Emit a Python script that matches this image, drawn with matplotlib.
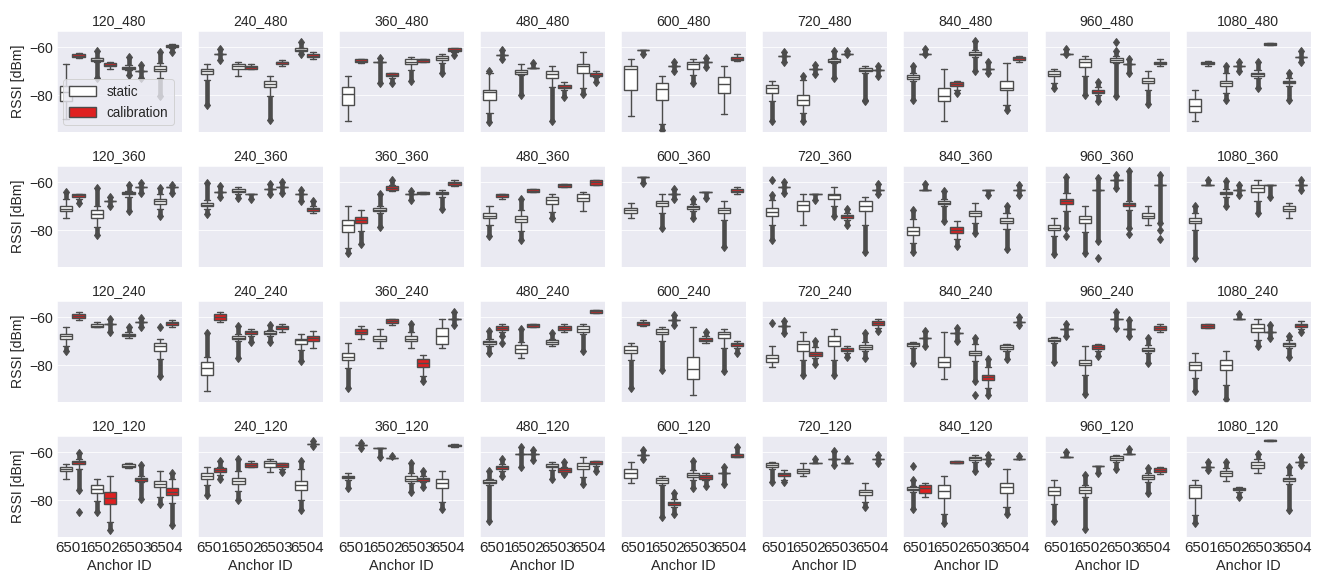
import matplotlib
matplotlib.use("Agg")
import matplotlib.pyplot as plt
import seaborn as sns
from matplotlib.patches import Patch

# ===================== data =====================
anchors = ["6501", "6502", "6503", "6504"]
hues = ["static", "calibration"]
x_cm = [120, 240, 360, 480, 600, 720, 840, 960, 1080]
y_cm = [480, 360, 240, 120]

# one tuple per box, order: 6501 static, 6501 calibration, 6502 static, ...
# (flier low, whisker low, q1, median, q3, whisker high, flier high)
box_120_480 = [(-90, -90, -82.5, -78.5, -76, -67, -67), (-64.5, -64.5, -64, -63.5, -63, -62.5, -62.5),
               (-73, -66, -65.6, -65.3, -64.7, -64.5, -61.5), (-69, -69, -67.8, -67.4, -66.8, -66, -66),
               (-71.5, -69.7, -69.2, -68.6, -68.1, -67.5, -64), (-73, -70, -70, -70, -70, -70, -67.5),
               (-80.5, -73, -70, -69, -67.8, -66.7, -62), (-62.2, -60.5, -60, -59.6, -59.2, -58.8, -58.8)]
box_240_480 = [(-84, -73.6, -71.1, -70, -69, -67.1, -67.1), (-65.3, -63, -63, -63, -63, -63, -60.8),
               (-72, -72, -69, -68, -67, -66, -66), (-69.2, -69.2, -69, -68.3, -67.8, -67, -67),
               (-90.3, -80.5, -76.7, -75.5, -74, -72, -72), (-67.8, -67.8, -67, -66.4, -66, -65.3, -65.3),
               (-62.8, -61.8, -61.5, -61, -60.5, -60.3, -58), (-65, -65, -64, -63.5, -62.8, -62, -62)]
box_360_480 = [(-90.6, -90.6, -84, -79.4, -76.7, -72, -72), (-66.6, -66.6, -66.2, -65.6, -65, -64.9, -64.9),
               (-75, -66.4, -66.4, -66.4, -66.4, -66.4, -64.6), (-75, -72.8, -72, -71.4, -70.8, -70.6, -70.6),
               (-73.9, -69.7, -67, -66, -64.9, -64.2, -64.2), (-66.2, -66.2, -66.2, -65.5, -65, -65, -65),
               (-70.8, -66.7, -65.5, -64.6, -63.9, -62.9, -62.9), (-63.2, -62, -61.5, -61, -60.5, -60.5, -60.5)]
box_480_480 = [(-91, -87.5, -82.2, -78.5, -77.8, -70.6, -70.1), (-65, -63.2, -63.2, -63.2, -63.2, -63.2, -61),
               (-79.9, -71.5, -71.1, -70.3, -69.7, -67, -67), (-68.8, -68.8, -68.8, -68.8, -68.8, -68.8, -66.7),
               (-90.6, -76.7, -72.9, -71, -69.9, -67.8, -67.8), (-80.8, -77.8, -77, -76.4, -75.7, -74.7, -74.7),
               (-79.4, -77, -70.8, -68, -67, -62.1, -62.1), (-74.7, -72.6, -72, -71.4, -70.6, -70, -70)]
box_600_480 = [(-88.6, -88.6, -78, -69, -67.8, -65, -65), (-63, -61, -61, -61, -61, -61, -61),
               (-94.4, -92, -81.9, -77.5, -75, -72, -72), (-70, -68, -68, -68, -68, -68, -66),
               (-75, -71.5, -69.2, -67.1, -66.2, -65, -65), (-68.1, -66.3, -66.3, -66.3, -66.3, -66.3, -64.6),
               (-87.8, -87.8, -78.9, -75.4, -72.5, -67.8, -67.8), (-65.7, -65.7, -65.3, -64.9, -64.2, -63, -63)]
box_720_480 = [(-90.6, -82.6, -78.9, -77, -75.7, -73.9, -73.9), (-66.4, -63.9, -63.9, -63.9, -63.9, -63.9, -62),
               (-90.6, -87.5, -84, -82, -79.9, -73.5, -72), (-71, -69, -69, -69, -69, -69, -67.5),
               (-72.9, -66.7, -66.2, -65.7, -64.9, -64.5, -61.8), (-63, -62.9, -62.9, -62.9, -62.9, -62.9, -61.5),
               (-81.9, -70.8, -70.1, -69.7, -68.8, -68, -68), (-72, -69.5, -69.5, -69.5, -69.5, -69.5, -68)]
box_840_480 = [(-82, -74, -73.2, -72.6, -71.8, -70.8, -67.8), (-63, -62.9, -62.9, -62.9, -62.9, -62.9, -60.8),
               (-90.6, -90.6, -82.6, -80.3, -76.8, -69, -69), (-79.2, -77.8, -76, -75.4, -74.7, -73.9, -73.9),
               (-70.1, -64.2, -63.3, -62.9, -62, -61.1, -57.4), (-70.8, -69, -69, -69, -69, -69, -66),
               (-86.1, -84, -78, -77, -73.9, -66.7, -66.7), (-66, -66, -65.3, -64.7, -64.2, -63.9, -63.9)]
box_960_480 = [(-77, -75, -72.2, -71, -70, -68.9, -68.9), (-63, -62.9, -62.9, -62.9, -62.9, -62.9, -60.8),
               (-79.9, -72.2, -68.1, -66.4, -65, -63.9, -63.9), (-82.6, -80, -78.9, -78.6, -77.8, -76.5, -74.7),
               (-80.5, -66.7, -66.4, -65.5, -64.7, -63.9, -61.8), (-70.8, -67, -67, -67, -67, -67, -65),
               (-83.6, -77.8, -75, -74.2, -72.9, -70, -70), (-67.8, -67.8, -67.2, -66.6, -66, -65, -65)]
box_1080_480 = [(-90.6, -90.6, -86.8, -84.3, -81.7, -78, -78), (-68, -68, -67.1, -66.5, -66, -65.8, -65.8),
                (-82, -78.9, -76, -74.9, -73.9, -70.8, -67.8), (-70, -68, -68, -68, -68, -68, -66),
                (-77, -73, -72.2, -71.3, -70.6, -69.7, -66), (-59.2, -59.2, -59.2, -58.7, -58.3, -58.3, -58.3),
                (-82.2, -76, -75, -74.5, -73.9, -73, -70.6), (-66.4, -64.2, -64.2, -64.2, -64.2, -64.2, -61.8)]

box_120_360 = [(-75, -75, -72.1, -71.1, -69.9, -67.1, -64), (-68.8, -67.1, -66, -65.5, -65, -64.8, -64.8),
               (-82, -78.8, -75, -73.4, -71.8, -70, -62.5), (-70, -68, -68, -68, -68, -68, -66.3),
               (-72.2, -66, -65.1, -64.5, -64, -63.5, -61), (-64.6, -62, -62, -62, -62, -62, -60.4),
               (-74, -71.2, -69, -68, -67.1, -64.9, -62.5), (-64.6, -62, -62, -62, -62, -62, -61.1)]
box_240_360 = [(-73.2, -71, -69.9, -69.5, -68.8, -67.5, -60.4), (-66.2, -64, -64, -64, -64, -64, -61.8),
               (-66.8, -65.1, -64.3, -63.5, -62.9, -62, -62), (-67, -65, -65, -65, -65, -65, -65),
               (-64.9, -63, -63, -63, -63, -63, -60.8), (-64.6, -62, -62, -62, -62, -62, -60),
               (-68, -64.9, -64.9, -64.9, -64.9, -64.9, -63.2), (-72.9, -72.9, -72, -71.3, -70.8, -69.9, -68)]
box_360_360 = [(-89.6, -87.5, -80.8, -78, -75.7, -69.9, -69.9), (-85.7, -80.3, -77.1, -75.7, -74.7, -71.8, -71.8),
               (-78.8, -73, -72.2, -71.4, -70.7, -70, -64.9), (-63.6, -63.6, -63.2, -62.5, -61.8, -61.2, -59.3),
               (-67.6, -64.9, -64.9, -64.9, -64.9, -64.9, -63.5), (-65.1, -65.1, -65.1, -64.6, -64.2, -64.2, -64.2),
               (-71.2, -66, -65.1, -64.6, -64, -63.2, -63.2), (-61.5, -61.5, -61.2, -60.5, -59.9, -59, -59)]
box_480_360 = [(-82.6, -77.8, -75, -73.9, -72.9, -69.9, -69.9), (-67.1, -67.1, -66.2, -65.5, -65, -64.8, -64.8),
               (-84, -80.3, -76.8, -75.4, -73.9, -71.5, -67), (-64.2, -64.2, -64.2, -63.5, -62.9, -62.9, -62.9),
               (-75, -72.5, -69.2, -67.5, -66, -64.9, -64.9), (-62, -62, -62, -61.4, -60.8, -60.8, -60.8),
               (-72, -72, -68, -66.5, -64.9, -64, -64), (-61.2, -61.2, -61.2, -60, -59, -59, -59)]
box_600_360 = [(-75, -75, -72.9, -71.8, -70.8, -68.8, -68.8), (-60.4, -58, -58, -58, -58, -58, -58),
               (-79.2, -72.9, -69.9, -68.9, -67.8, -64.9, -64.9), (-67, -64.9, -64.9, -64.9, -64.9, -64.9, -62.9),
               (-75, -72, -71.1, -70.5, -69.9, -69.2, -67), (-66.5, -64, -64, -64, -64, -64, -64),
               (-86.8, -75.7, -72.9, -71.8, -70.8, -68, -68), (-64.9, -64.9, -64.3, -63.5, -62.8, -62.1, -62.1)]
box_720_360 = [(-84, -77.8, -74, -72.5, -70.8, -67.5, -65.3), (-64.6, -62, -62, -62, -62, -62, -60),
               (-77.8, -77.8, -72.2, -69.7, -67.8, -64.9, -64.9), (-67.4, -64.9, -64.9, -64.9, -64.9, -64.9, -64.9),
               (-74, -70.1, -67.1, -65.5, -64.9, -62, -62), (-77.8, -75.7, -75, -74.3, -73.8, -72.9, -71),
               (-88.9, -77.8, -72.2, -70, -68, -66, -66), (-64.9, -63.2, -63.2, -63.2, -63.2, -63.2, -60.7)]
box_840_360 = [(-88.9, -85.4, -82, -80.3, -78.8, -75.5, -71.5), (-63.2, -63.2, -63.2, -63.2, -63.2, -63.2, -60.7),
               (-76, -70.1, -69.3, -68.5, -67.9, -67.1, -63.5), (-86.5, -83.5, -81, -79.9, -78.8, -76, -76),
               (-81, -77.1, -74, -73, -72, -68.8, -68.8), (-65.3, -63.2, -63.2, -63.2, -63.2, -63.2, -63.2),
               (-87.9, -79.5, -77.1, -76, -75, -73, -70), (-65.3, -63.2, -63.2, -63.2, -63.2, -63.2, -61.1)]
box_960_360 = [(-89.9, -82.6, -79.9, -78.9, -77.8, -75, -75), (-79.2, -72, -69.2, -68, -66.9, -64.5, -57.9),
               (-89.6, -80.8, -77.1, -75.4, -73.9, -69.9, -69.9), (-84.7, -63.2, -63.2, -63.2, -63.2, -63.2, -58.3),
               (-62.5, -59, -59, -59, -59, -59, -57), (-79.2, -71.5, -69.9, -69.3, -68.6, -68, -55.3),
               (-77.8, -77.8, -75, -73.9, -72.9, -70.1, -70.1), (-77, -61.1, -61.1, -61.1, -61.1, -61.1, -57)]
box_1080_360 = [(-91.7, -80, -77.1, -76, -75, -73, -70.1), (-61.1, -61.1, -61.1, -61.1, -61.1, -61.1, -59),
                (-70, -66.2, -65.1, -64.6, -64, -63, -59.7), (-65.3, -63.2, -63.2, -63.2, -63.2, -63.2, -61.1),
                (-72.9, -68, -64, -62.5, -61.2, -59, -59), (-66, -61.1, -61.1, -61.1, -61.1, -61.1, -61.1),
                (-75, -75, -72.1, -71.1, -69.9, -68.8, -68.8), (-63.2, -61.1, -61.1, -61.1, -61.1, -61.1, -59)]

box_120_240 = [(-74.2, -72.1, -69.2, -68, -66.9, -64.2, -64.2), (-61.1, -61.1, -60.3, -59.6, -58.9, -58, -58),
               (-64.2, -64.2, -64.2, -63.5, -62.8, -62.2, -62.2), (-66.1, -63, -63, -63, -63, -63, -61),
               (-68.9, -68.9, -68, -67.5, -66.9, -66.1, -64.2), (-64.2, -62.2, -62.2, -62.2, -62.2, -62.2, -60.3),
               (-84.6, -77.6, -73.9, -72, -70.8, -69, -69), (-64.2, -64.2, -63.3, -62.5, -61.9, -61.2, -61.2)]
box_240_240 = [(-90.6, -90.6, -83.9, -81.1, -78.6, -76.5, -66.5), (-62.2, -62.2, -61.4, -60, -58.9, -58, -58),
               (-76.9, -70, -69.3, -68.6, -67.9, -67.2, -63.8), (-70.3, -68, -67.2, -66.4, -65.8, -65, -65),
               (-70.3, -68, -67.2, -66.5, -65.8, -65.4, -63.1), (-66.1, -66.1, -65.1, -64.3, -63.8, -62.8, -62.8),
               (-78.3, -73.5, -71, -69.7, -69, -67, -67), (-72.8, -72.8, -70, -68.9, -67.9, -65.8, -65.8)]
box_360_240 = [(-89.4, -81.1, -78, -76.4, -74.9, -70.7, -70.7), (-69, -69, -67.2, -66, -64.9, -63.9, -63.9),
               (-72.8, -72.8, -70, -69, -67.9, -65, -65), (-63.1, -63.1, -62.4, -61.7, -61, -60.7, -60.7),
               (-72.8, -72.8, -70, -69, -67.9, -66, -62.8), (-86.7, -84.6, -80.8, -79, -77.6, -75.8, -75.8),
               (-72.8, -72.8, -71.1, -67.9, -64.7, -61, -61), (-63.1, -61, -61, -61, -61, -61, -57.8)]
box_480_240 = [(-74.9, -72.1, -71.1, -70.5, -69.9, -69.2, -65.8), (-67.9, -66.1, -65.3, -64.6, -63.9, -62.8, -62.8),
               (-76.9, -76.9, -74.9, -73.3, -71.8, -70.5, -65.1), (-64.2, -64.2, -64.2, -63.3, -62.8, -62.8, -62.8),
               (-72.1, -72.1, -71.1, -70.5, -69.7, -69, -66.5), (-66.1, -66.1, -65.3, -64.6, -63.9, -62.8, -62.8),
               (-74.2, -67.2, -66.1, -64.9, -63.9, -62.8, -62.8), (-58.3, -58.3, -58.3, -57.6, -57, -57, -57)]
box_600_240 = [(-89.4, -78, -74.9, -73.5, -72.1, -70.7, -70.7), (-63.6, -63.6, -63.3, -62.5, -61.9, -61.2, -61.2),
               (-81.8, -70, -67, -66, -65, -64.2, -64.2), (-63.1, -61.1, -61.1, -61.1, -61.1, -61.1, -59.2),
               (-92.5, -92.5, -85.8, -81.4, -76.7, -64.2, -64.2), (-70.7, -70.7, -70.1, -69.4, -68.8, -68, -66.1),
               (-82.5, -73, -68.9, -67.2, -66.1, -65, -65), (-74.9, -73, -72.1, -71.4, -70.7, -70, -70)]
box_720_240 = [(-80.8, -80.8, -78.6, -77, -75.8, -72.1, -72.1), (-66.5, -63.8, -63.8, -63.8, -63.8, -63.8, -61.7),
               (-83.9, -78, -73.9, -71.1, -70, -66.1, -66.1), (-79.4, -77, -76.3, -75.3, -74.4, -72.5, -70),
               (-83.9, -78, -72.1, -70, -68, -65.1, -65.1), (-76.7, -75, -74.2, -73.5, -72.8, -72.1, -72.1),
               (-76.9, -74, -73.1, -72.4, -71.7, -70.5, -66.5), (-65.8, -64.4, -63.3, -62.4, -61.7, -61, -61)]
box_840_240 = [(-79, -73, -72.1, -71.4, -70.7, -70.5, -70.5), (-72.1, -68.9, -68.9, -68.9, -68.9, -68.9, -65.8),
               (-85.6, -85.6, -80.8, -78.6, -76.7, -66.1, -66.1), (-70, -66.8, -66.8, -66.8, -66.8, -66.8, -64.7),
               (-86.7, -78.3, -75.8, -74.9, -73.9, -71.4, -68.9), (-92.5, -89.4, -86, -85, -83.9, -80.8, -77.6),
               (-77.6, -74.2, -73.1, -72.4, -71.7, -71, -71), (-63.3, -62, -62, -62, -62, -62, -60)]
box_960_240 = [(-78.6, -70.7, -70, -69.4, -68.9, -68.2, -68.2), (-67.9, -65, -65, -65, -65, -65, -62.8),
               (-91.9, -83.9, -80, -78.9, -77.8, -72.1, -72.1), (-76.3, -74.2, -73.2, -72.5, -71.8, -71.1, -71.1),
               (-64.4, -61, -61, -61, -61, -61, -57.8), (-67.9, -65, -65, -65, -65, -65, -61.4),
               (-79, -75, -74.2, -73.5, -72.8, -71.7, -68.9), (-66.1, -66.1, -65.3, -64.4, -63.8, -62.8, -62.8)]
box_1080_240 = [(-90.8, -85.3, -81.8, -80.1, -78.6, -74.9, -74.9), (-64.4, -64.4, -64.4, -63.5, -62.8, -62.8, -62.8),
                (-93.9, -88.1, -81.9, -80, -78, -73.9, -73.9), (-61, -61, -61, -61, -61, -61, -58.6),
                (-72.1, -69.7, -66.1, -64.4, -62.8, -61, -61), (-68.9, -66.1, -66.1, -66.1, -66.1, -66.1, -63.1),
                (-76.7, -73, -72.1, -71.4, -70.7, -69.7, -67.9), (-66.1, -64.9, -64.2, -63.3, -62.8, -61.7, -61.7)]

box_120_120 = [(-71, -71, -67.8, -66.9, -66.1, -65, -65), (-75.8, -67, -65, -64.3, -63.9, -63, -60.3),
               (-84.9, -80.5, -77, -75.3, -73.8, -71, -71), (-92.5, -89, -81.7, -79, -76.5, -70, -70),
               (-66.8, -66.8, -66.1, -65.6, -65, -64.7, -64.7), (-79.7, -72.6, -71.9, -71.4, -70.8, -70, -65.4),
               (-81.7, -78.5, -74.7, -73.2, -71.9, -67.8, -67.8), (-90.4, -81, -77.9, -76.5, -74.9, -71, -68.9)]
box_240_120 = [(-77.9, -73.5, -71, -70, -68.9, -66.4, -66.4), (-71, -69.4, -68.2, -67.5, -66.8, -66, -63.6),
               (-80, -76, -73.1, -71.9, -70.8, -68, -63), (-66.1, -66.1, -66.1, -65.4, -64.7, -63.9, -63.9),
               (-68.2, -68.2, -66.1, -64.7, -63.9, -63, -63), (-68.2, -67, -66.1, -65.4, -64.7, -64.7, -64.7),
               (-84.2, -80, -75.8, -73.9, -71.9, -67, -63.6), (-57.5, -56.5, -56.5, -56.5, -56.5, -56.5, -55.5)]
box_360_120 = [(-75, -71.7, -70.8, -70.5, -70, -68.9, -68.9), (-58.5, -57, -57, -57, -57, -57, -56.2),
               (-62, -58.5, -58.5, -58.5, -58.5, -58.5, -58.5), (-62.6, -62.6, -62.6, -62.6, -62.6, -62.6, -61.5),
               (-76.5, -73, -72.2, -71, -70, -68.5, -64.7), (-74.7, -72.6, -71.9, -71.4, -70.8, -70, -67.8),
               (-83.5, -80.7, -75, -72.8, -71, -67.8, -67.8), (-58, -58, -57.6, -57.2, -57, -56.8, -56.8)]
box_480_120 = [(-88.6, -73.5, -72.8, -72.3, -71.7, -71, -67.8), (-70, -68, -67.2, -66.4, -65.8, -65, -63),
               (-66.1, -60.6, -60.6, -60.6, -60.6, -60.6, -57.8), (-63.3, -60.8, -60.8, -60.8, -60.8, -60.8, -59.2),
               (-71, -67.5, -66.4, -65.7, -65, -64.2, -64.2), (-69.2, -68.9, -68.2, -67.4, -66.8, -66, -64),
               (-73.1, -70.3, -67.2, -65.8, -64.7, -61.9, -61.9), (-67.8, -65.6, -65, -64.4, -63.9, -63.9, -63.9)]
box_600_120 = [(-72.8, -72.8, -70.8, -68.9, -66.9, -64, -64), (-63, -61.2, -61.2, -61.2, -61.2, -61.2, -59.2),
               (-86.9, -73.8, -72.8, -71.7, -70.8, -70, -70), (-85.6, -82.8, -82.1, -81.2, -80.7, -79.5, -76.9),
               (-75.1, -71.7, -70.3, -69.4, -68.6, -67.5, -63.6), (-74.2, -71.7, -71, -70.3, -69.6, -68.9, -68.9),
               (-73.1, -68.9, -68.9, -68.9, -68.9, -68.9, -66.1), (-62.2, -62.2, -62.2, -61.5, -60.8, -60.8, -57.8)]
box_720_120 = [(-72.4, -67, -66.1, -65.5, -64.7, -64, -64), (-72.4, -71.5, -70, -69.2, -68.6, -67.5, -67.5),
               (-70, -70, -68.9, -67.8, -66.9, -64.7, -64.7), (-64.7, -64.7, -64.7, -64.7, -64.7, -64.7, -63),
               (-65.4, -62.8, -62.8, -62.8, -62.8, -62.8, -59.4), (-64.7, -64.7, -64.7, -64.7, -64.7, -64.7, -63),
               (-82.8, -80.7, -77.9, -76.7, -75.6, -72.8, -72.8), (-64.7, -63, -63, -63, -63, -63, -61.2)]
box_840_120 = [(-83.5, -76.5, -75.8, -75.3, -74.7, -74, -71.7), (-78.6, -78.6, -77, -75, -73.8, -72.8, -72.8),
               (-89.4, -85.6, -78.9, -76, -73.8, -70, -70), (-64.7, -64.7, -64.7, -64.4, -63.9, -63.9, -63.9),
               (-67.8, -64.3, -63.3, -62.6, -61.9, -61.2, -61.2), (-64.7, -63, -63, -63, -63, -63, -61.2),
               (-85.6, -82.8, -77, -74.6, -72.8, -66.9, -66.9), (-63, -63, -63, -63, -63, -63, -61.6)]
box_960_120 = [(-88.6, -81.4, -77.9, -76, -74.4, -71.7, -71.7), (-61.9, -61.9, -61.9, -61.9, -61.9, -61.9, -59.9),
               (-91.8, -78.5, -76.9, -75.8, -74.7, -73.5, -69.6), (-68.9, -65.8, -65.8, -65.8, -65.8, -65.8, -65.8),
               (-67.2, -64.3, -63.3, -62.5, -61.7, -61.2, -61.2), (-60.8, -60.8, -60.8, -60.8, -60.8, -60.8, -58.9),
               (-77, -72.4, -71.3, -70.5, -69.6, -68.9, -66.8), (-69.2, -69.2, -68.2, -67.5, -66.8, -66.1, -66.1)]
box_1080_120 = [(-89.7, -86, -78.9, -74.4, -73.8, -71.7, -71.7), (-67.5, -66.1, -66.1, -66.1, -66.1, -66.1, -64),
                (-72, -72, -70, -68.9, -67.8, -66.8, -64), (-78.6, -76.5, -75.8, -75.4, -75, -74.4, -74.4),
                (-68.9, -68.9, -66.8, -65.4, -64, -63, -60.6), (-55.5, -55.5, -55.5, -55, -55, -55, -55),
                (-84.2, -73.1, -72.1, -71.3, -70.6, -69.7, -66.1), (-65.4, -64, -64, -64, -64, -64, -61.9)]

# single outliers sitting away from the flier columns: panel -> {box index: values}
lone_fliers = {
    "720_480": {6: [-82.6]},
    "960_480": {4: [-58]},
    "720_360": {0: [-59]},
    "960_360": {1: [-82.6], 3: [-91.7], 5: [-81.7], 7: [-79.9, -83.8]},
    "120_240": {6: [-64.2]},
    "480_240": {1: [-70.7]},
    "720_240": {0: [-62.4]},
    "840_240": {4: [-92.5]},
    "120_120": {1: [-84.9]},
    "840_120": {0: [-65.8]},
}

grid_rows = [
    [box_120_480, box_240_480, box_360_480, box_480_480, box_600_480, box_720_480, box_840_480, box_960_480, box_1080_480],
    [box_120_360, box_240_360, box_360_360, box_480_360, box_600_360, box_720_360, box_840_360, box_960_360, box_1080_360],
    [box_120_240, box_240_240, box_360_240, box_480_240, box_600_240, box_720_240, box_840_240, box_960_240, box_1080_240],
    [box_120_120, box_240_120, box_360_120, box_480_120, box_600_120, box_720_120, box_840_120, box_960_120, box_1080_120],
]
# =====================================================================

couleurs = {"static": "#ffffff", "calibration": "#df2020"}
gris = "#4c4c4c"
lw = 1.4
largeur = 0.392


def tracer_panneau(ax, boites, nom):
    pos = [i // 2 + (-0.2 if i % 2 == 0 else 0.2) for i in range(len(boites))]
    stats = [dict(med=b[3], q1=b[2], q3=b[4], whislo=b[1], whishi=b[5], fliers=[]) for b in boites]
    art = ax.bxp(stats, positions=pos, widths=largeur, patch_artist=True, showfliers=False,
                 manage_ticks=False,
                 boxprops=dict(edgecolor=gris, linewidth=lw),
                 medianprops=dict(color=gris, linewidth=lw),
                 whiskerprops=dict(color=gris, linewidth=lw),
                 capprops=dict(color=gris, linewidth=lw))
    for i, patch in enumerate(art["boxes"]):
        patch.set_facecolor(couleurs[hues[i % 2]])

    # colonnes de points aberrants (valeurs RSSI entières, très serrées)
    for x, b in zip(pos, boites):
        flo, wlo, whi, fhi = b[0], b[1], b[5], b[6]
        if flo < wlo:
            ax.plot([x, x], [flo, wlo], color=gris, lw=4.6, solid_capstyle="butt", zorder=1.5)
            ax.plot([x], [flo], marker="d", ms=6, color=gris, ls="none", zorder=1.5)
        if fhi > whi:
            ax.plot([x, x], [whi, fhi], color=gris, lw=4.6, solid_capstyle="butt", zorder=1.5)
            ax.plot([x], [fhi], marker="d", ms=6, color=gris, ls="none", zorder=1.5)
    for k, vals in lone_fliers.get(nom, {}).items():
        ax.plot([pos[k]] * len(vals), vals, marker="d", ms=6, color=gris, ls="none")

    ax.set_title(nom, fontsize=14)
    ax.set_xlim(-0.5, 3.5)
    ax.set_ylim(-95.2, -53.3)
    ax.set_xticks(range(len(anchors)))
    ax.set_xticklabels(anchors)
    ax.set_yticks([-80, -60])
    ax.xaxis.grid(False)
    ax.tick_params(axis="x", labelsize=15, length=0, pad=4)
    ax.tick_params(axis="y", labelsize=14, length=0, pad=4)


def main():
    sns.set_style("darkgrid")
    plt.rcParams["font.family"] = ["Liberation Sans", "DejaVu Sans"]

    fig, axes = plt.subplots(len(y_cm), len(x_cm), sharex=True, sharey=True,
                             figsize=(1322 / 72, 572 / 72), dpi=72)
    fig.subplots_adjust(left=0.0429, right=0.9914, bottom=0.0617, top=0.9458,
                        wspace=0.13, hspace=0.34)

    for r, yv in enumerate(y_cm):
        for c, xv in enumerate(x_cm):
            ax = axes[r, c]
            tracer_panneau(ax, grid_rows[r][c], f"{xv}_{yv}")
            if c == 0:
                ax.set_ylabel("RSSI [dBm]", fontsize=14)
            if r == len(y_cm) - 1:
                ax.set_xlabel("Anchor ID", fontsize=14.5)

    poignees = [Patch(facecolor=couleurs[h], edgecolor=gris, linewidth=lw, label=h) for h in hues]
    axes[0, 0].legend(handles=poignees, loc="lower left", fontsize=13.5)

    fig.savefig("out.png", dpi=72)


if __name__ == "__main__":
    main()
